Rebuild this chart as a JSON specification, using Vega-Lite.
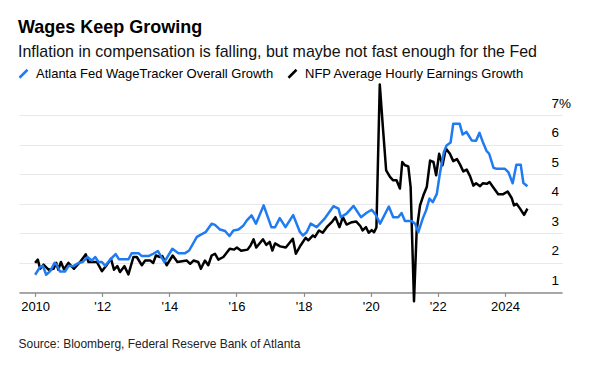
{
  "$schema": "https://vega.github.io/schema/vega-lite/v6.json",
  "width": 543,
  "height": 212.4,
  "autosize": {"type": "none"},
  "padding": {"left": 19, "top": 80, "right": 27, "bottom": 85},
  "background": "white",
  "config": {"view": {"stroke": null}, "font": "Liberation Sans"},
  "title": {
    "text": "Wages Keep Growing",
    "subtitle": "Inflation in compensation is falling, but maybe not fast enough for the Fed",
    "anchor": "start",
    "frame": "group",
    "font": "Liberation Sans",
    "subtitleFont": "Liberation Sans",
    "fontSize": 18,
    "fontWeight": "bold",
    "color": "#000000",
    "subtitleFontSize": 16,
    "subtitleColor": "#111111",
    "subtitlePadding": 7,
    "offset": 7,
    "dx": -1
  },
  "encoding": {
    "x": {
      "field": "t",
      "type": "quantitative",
      "scale": {"domain": [2009.52, 2025.7], "nice": false, "zero": false},
      "axis": {
        "values": [2010, 2012, 2014, 2016, 2018, 2020, 2022, 2024],
        "format": "d",
        "labelExpr": "datum.value == 2010 || datum.value == 2024 ? datum.label : \"'\" + slice(datum.label, 2)",
        "grid": false,
        "domainColor": "#8c8c8c",
        "domainWidth": 1.5,
        "tickColor": "#8c8c8c",
        "tickSize": 4,
        "tickWidth": 1.2,
        "labelFontSize": 13,
        "labelColor": "#000000",
        "labelPadding": 4,
        "title": "Source: Bloomberg, Federal Reserve Bank of Atlanta",
        "titleAnchor": "start",
        "titleAlign": "left",
        "titleX": -1,
        "titleY": 55,
        "titleBaseline": "alphabetic",
        "titleFontSize": 12,
        "titleFontWeight": "normal",
        "titleColor": "#222222"
      }
    },
    "y": {
      "field": "v",
      "type": "quantitative",
      "scale": {"domain": [1, 8.2], "nice": false, "zero": false},
      "axis": {
        "orient": "right",
        "values": [1, 2, 3, 4, 5, 6, 7],
        "format": "d",
        "labelExpr": "datum.value == 7 ? datum.label + '%' : datum.label",
        "domain": false,
        "ticks": false,
        "tickSize": 0,
        "grid": true,
        "gridColor": "#e8e8e8",
        "gridWidth": 1,
        "labelAlign": "left",
        "labelBaseline": "alphabetic",
        "labelOffset": -8,
        "labelPadding": -11,
        "labelFontSize": 13.5,
        "labelColor": "#000000",
        "title": null
      }
    }
  },
  "layer": [
    {
      "data": {"values": [
        {"t": 2010.00, "v": 2.00}, {"t": 2010.08, "v": 2.11}, {"t": 2010.15, "v": 1.80}, {"t": 2010.25, "v": 1.94},
        {"t": 2010.40, "v": 1.77}, {"t": 2010.55, "v": 1.80}, {"t": 2010.63, "v": 2.00}, {"t": 2010.69, "v": 1.77},
        {"t": 2010.77, "v": 2.03}, {"t": 2010.86, "v": 1.78}, {"t": 2010.99, "v": 2.00}, {"t": 2011.16, "v": 1.80},
        {"t": 2011.34, "v": 2.03}, {"t": 2011.51, "v": 2.29}, {"t": 2011.59, "v": 2.03}, {"t": 2011.84, "v": 2.03},
        {"t": 2011.99, "v": 1.72}, {"t": 2012.14, "v": 1.94}, {"t": 2012.26, "v": 2.14}, {"t": 2012.35, "v": 1.77},
        {"t": 2012.45, "v": 1.89}, {"t": 2012.53, "v": 1.69}, {"t": 2012.66, "v": 1.89}, {"t": 2012.78, "v": 1.61},
        {"t": 2012.93, "v": 2.20}, {"t": 2013.03, "v": 2.20}, {"t": 2013.18, "v": 1.92}, {"t": 2013.28, "v": 2.08},
        {"t": 2013.43, "v": 2.08}, {"t": 2013.52, "v": 2.00}, {"t": 2013.60, "v": 2.25}, {"t": 2013.72, "v": 2.20},
        {"t": 2013.79, "v": 2.23}, {"t": 2013.92, "v": 1.92}, {"t": 2014.10, "v": 2.25}, {"t": 2014.24, "v": 2.03},
        {"t": 2014.52, "v": 2.08}, {"t": 2014.62, "v": 1.97}, {"t": 2014.72, "v": 2.08}, {"t": 2014.86, "v": 2.03},
        {"t": 2014.94, "v": 1.80}, {"t": 2015.06, "v": 2.08}, {"t": 2015.16, "v": 1.92}, {"t": 2015.26, "v": 2.25},
        {"t": 2015.36, "v": 2.31}, {"t": 2015.46, "v": 2.11}, {"t": 2015.61, "v": 2.20}, {"t": 2015.80, "v": 2.48},
        {"t": 2015.93, "v": 2.45}, {"t": 2016.01, "v": 2.52}, {"t": 2016.14, "v": 2.41}, {"t": 2016.33, "v": 2.45},
        {"t": 2016.42, "v": 2.59}, {"t": 2016.51, "v": 2.80}, {"t": 2016.59, "v": 2.52}, {"t": 2016.79, "v": 2.80},
        {"t": 2016.89, "v": 2.61}, {"t": 2016.99, "v": 2.71}, {"t": 2017.07, "v": 2.42}, {"t": 2017.15, "v": 2.66},
        {"t": 2017.30, "v": 2.56}, {"t": 2017.47, "v": 2.52}, {"t": 2017.68, "v": 2.82}, {"t": 2017.77, "v": 2.31},
        {"t": 2017.91, "v": 2.59}, {"t": 2018.06, "v": 2.85}, {"t": 2018.14, "v": 2.76}, {"t": 2018.28, "v": 2.93},
        {"t": 2018.34, "v": 2.88}, {"t": 2018.46, "v": 3.10}, {"t": 2018.57, "v": 3.02}, {"t": 2018.69, "v": 3.21},
        {"t": 2018.86, "v": 3.41}, {"t": 2018.95, "v": 3.55}, {"t": 2019.07, "v": 3.21}, {"t": 2019.17, "v": 3.55},
        {"t": 2019.28, "v": 3.30}, {"t": 2019.44, "v": 3.38}, {"t": 2019.57, "v": 3.40}, {"t": 2019.69, "v": 3.25},
        {"t": 2019.76, "v": 3.10}, {"t": 2019.86, "v": 3.21}, {"t": 2019.94, "v": 3.02}, {"t": 2020.03, "v": 3.11},
        {"t": 2020.10, "v": 3.04}, {"t": 2020.17, "v": 3.20}, {"t": 2020.27, "v": 8.05}, {"t": 2020.37, "v": 6.49},
        {"t": 2020.46, "v": 5.14}, {"t": 2020.58, "v": 4.91}, {"t": 2020.67, "v": 4.80}, {"t": 2020.77, "v": 4.80},
        {"t": 2020.87, "v": 4.52}, {"t": 2020.94, "v": 5.42}, {"t": 2021.02, "v": 5.31}, {"t": 2021.12, "v": 5.27},
        {"t": 2021.19, "v": 4.57}, {"t": 2021.29, "v": 0.70}, {"t": 2021.37, "v": 3.10}, {"t": 2021.47, "v": 3.95},
        {"t": 2021.57, "v": 4.29}, {"t": 2021.67, "v": 4.57}, {"t": 2021.77, "v": 5.47}, {"t": 2021.87, "v": 5.42},
        {"t": 2021.95, "v": 4.97}, {"t": 2022.04, "v": 5.70}, {"t": 2022.14, "v": 5.31}, {"t": 2022.24, "v": 5.88},
        {"t": 2022.36, "v": 5.70}, {"t": 2022.46, "v": 5.45}, {"t": 2022.57, "v": 5.52}, {"t": 2022.66, "v": 5.34},
        {"t": 2022.76, "v": 5.10}, {"t": 2022.86, "v": 5.16}, {"t": 2022.96, "v": 4.94}, {"t": 2023.06, "v": 4.62},
        {"t": 2023.14, "v": 4.70}, {"t": 2023.26, "v": 4.60}, {"t": 2023.34, "v": 4.70}, {"t": 2023.46, "v": 4.68},
        {"t": 2023.54, "v": 4.74}, {"t": 2023.66, "v": 4.55}, {"t": 2023.80, "v": 4.33}, {"t": 2023.95, "v": 4.33},
        {"t": 2024.08, "v": 4.42}, {"t": 2024.20, "v": 4.20}, {"t": 2024.27, "v": 3.95}, {"t": 2024.35, "v": 4.00},
        {"t": 2024.45, "v": 3.84}, {"t": 2024.57, "v": 3.63}, {"t": 2024.67, "v": 3.84}
      ]},
      "mark": {"type": "line", "strokeWidth": 2.5, "strokeJoin": "round"},
      "encoding": {
        "color": {
          "datum": "NFP Average Hourly Earnings Growth",
          "type": "nominal",
          "scale": {"domain": ["Atlanta Fed WageTracker Overall Growth", "NFP Average Hourly Earnings Growth"], "range": ["#1F7BF2", "#000000"]},
          "legend": {
            "orient": "none", "legendX": -2, "legendY": -13, "direction": "horizontal", "title": null,
            "symbolType": "M-1,1L1,-1", "symbolSize": 64, "symbolStrokeWidth": 2.5,
            "labelFontSize": 13, "labelColor": "#000000", "labelLimit": 0, "columnPadding": 9,
            "labelOffset": 6, "padding": 0
          }
        }
      }
    },
    {
      "data": {"values": [
        {"t": 2010.00, "v": 1.60}, {"t": 2010.15, "v": 1.86}, {"t": 2010.23, "v": 1.90}, {"t": 2010.33, "v": 1.60},
        {"t": 2010.45, "v": 1.72}, {"t": 2010.58, "v": 2.00}, {"t": 2010.65, "v": 1.92}, {"t": 2010.74, "v": 1.71},
        {"t": 2010.89, "v": 1.71}, {"t": 2011.00, "v": 1.90}, {"t": 2011.14, "v": 1.89}, {"t": 2011.30, "v": 2.00},
        {"t": 2011.42, "v": 2.03}, {"t": 2011.56, "v": 2.20}, {"t": 2011.69, "v": 2.08}, {"t": 2011.79, "v": 2.20},
        {"t": 2011.89, "v": 2.03}, {"t": 2011.99, "v": 2.03}, {"t": 2012.09, "v": 1.90}, {"t": 2012.18, "v": 2.03},
        {"t": 2012.28, "v": 2.16}, {"t": 2012.40, "v": 2.30}, {"t": 2012.50, "v": 2.12}, {"t": 2012.78, "v": 2.12},
        {"t": 2012.88, "v": 2.33}, {"t": 2013.08, "v": 2.33}, {"t": 2013.18, "v": 2.23}, {"t": 2013.38, "v": 2.23},
        {"t": 2013.52, "v": 2.31}, {"t": 2013.66, "v": 2.40}, {"t": 2013.85, "v": 2.03}, {"t": 2014.09, "v": 2.48},
        {"t": 2014.27, "v": 2.33}, {"t": 2014.47, "v": 2.33}, {"t": 2014.59, "v": 2.42}, {"t": 2014.82, "v": 2.88},
        {"t": 2014.94, "v": 2.96}, {"t": 2015.08, "v": 3.04}, {"t": 2015.26, "v": 3.33}, {"t": 2015.36, "v": 3.29},
        {"t": 2015.51, "v": 3.13}, {"t": 2015.66, "v": 3.08}, {"t": 2015.79, "v": 2.91}, {"t": 2015.91, "v": 3.10},
        {"t": 2016.06, "v": 3.13}, {"t": 2016.21, "v": 3.27}, {"t": 2016.31, "v": 3.44}, {"t": 2016.45, "v": 3.61},
        {"t": 2016.58, "v": 3.33}, {"t": 2016.81, "v": 3.95}, {"t": 2017.04, "v": 3.21}, {"t": 2017.15, "v": 3.21},
        {"t": 2017.29, "v": 3.52}, {"t": 2017.46, "v": 3.21}, {"t": 2017.69, "v": 3.62}, {"t": 2017.89, "v": 3.05},
        {"t": 2017.98, "v": 2.93}, {"t": 2018.09, "v": 3.04}, {"t": 2018.21, "v": 3.33}, {"t": 2018.39, "v": 3.21},
        {"t": 2018.64, "v": 3.52}, {"t": 2018.89, "v": 3.92}, {"t": 2019.04, "v": 3.84}, {"t": 2019.11, "v": 3.55},
        {"t": 2019.28, "v": 3.67}, {"t": 2019.49, "v": 3.93}, {"t": 2019.71, "v": 3.55}, {"t": 2019.88, "v": 3.70},
        {"t": 2020.03, "v": 3.80}, {"t": 2020.15, "v": 3.63}, {"t": 2020.28, "v": 3.33}, {"t": 2020.54, "v": 3.91},
        {"t": 2020.67, "v": 3.55}, {"t": 2020.82, "v": 3.55}, {"t": 2020.92, "v": 3.69}, {"t": 2021.02, "v": 3.42},
        {"t": 2021.22, "v": 3.42}, {"t": 2021.32, "v": 3.33}, {"t": 2021.42, "v": 3.04}, {"t": 2021.55, "v": 3.50},
        {"t": 2021.65, "v": 3.78}, {"t": 2021.75, "v": 4.18}, {"t": 2021.85, "v": 4.06}, {"t": 2021.97, "v": 4.34},
        {"t": 2022.06, "v": 5.02}, {"t": 2022.18, "v": 5.76}, {"t": 2022.26, "v": 5.98}, {"t": 2022.38, "v": 6.08},
        {"t": 2022.46, "v": 6.72}, {"t": 2022.65, "v": 6.72}, {"t": 2022.74, "v": 6.35}, {"t": 2022.85, "v": 6.44},
        {"t": 2022.93, "v": 6.30}, {"t": 2023.01, "v": 6.15}, {"t": 2023.14, "v": 6.14}, {"t": 2023.24, "v": 6.41},
        {"t": 2023.35, "v": 6.07}, {"t": 2023.45, "v": 5.80}, {"t": 2023.53, "v": 5.70}, {"t": 2023.66, "v": 5.22},
        {"t": 2023.75, "v": 5.19}, {"t": 2024.00, "v": 5.19}, {"t": 2024.10, "v": 5.08}, {"t": 2024.23, "v": 4.70},
        {"t": 2024.34, "v": 5.33}, {"t": 2024.47, "v": 5.33}, {"t": 2024.55, "v": 4.71}, {"t": 2024.67, "v": 4.60}
      ]},
      "mark": {"type": "line", "strokeWidth": 2.5, "strokeJoin": "round"},
      "encoding": {
        "color": {
          "datum": "Atlanta Fed WageTracker Overall Growth",
          "type": "nominal",
          "scale": {"domain": ["Atlanta Fed WageTracker Overall Growth", "NFP Average Hourly Earnings Growth"], "range": ["#1F7BF2", "#000000"]}
        }
      }
    }
  ]
}
